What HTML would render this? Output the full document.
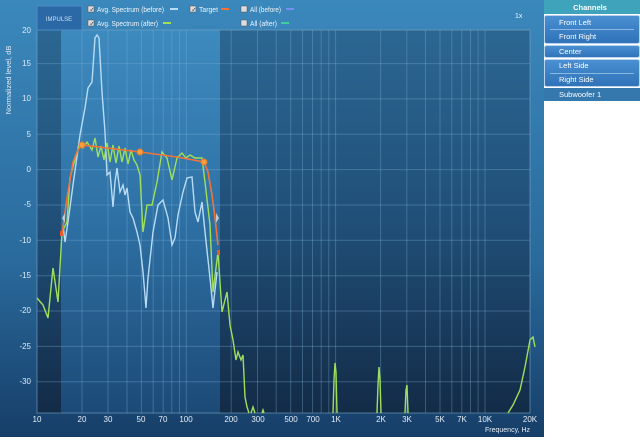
<!DOCTYPE html>
<html><head><meta charset="utf-8"><style>
body{margin:0;width:640px;height:440px;background:#fff;overflow:hidden;font-family:"Liberation Sans",sans-serif}
svg text{font-family:"Liberation Sans",sans-serif}
</style></head><body>
<svg width="640" height="440" viewBox="0 0 640 440" xmlns="http://www.w3.org/2000/svg">
<defs>
<linearGradient id="pan" x1="0" y1="0" x2="0" y2="1"><stop offset="0" stop-color="#3b88bc"/><stop offset="0.6" stop-color="#2a6a9c"/><stop offset="1" stop-color="#163e68"/></linearGradient>
<linearGradient id="lite" x1="0" y1="0" x2="0" y2="1"><stop offset="0" stop-color="#3d8abf"/><stop offset="0.5" stop-color="#2e70a4"/><stop offset="1" stop-color="#1c4a77"/></linearGradient>
<linearGradient id="dark" x1="0" y1="0" x2="0" y2="1"><stop offset="0" stop-color="#2b6792"/><stop offset="0.5" stop-color="#204f78"/><stop offset="1" stop-color="#132b47"/></linearGradient>
<linearGradient id="btn" x1="0" y1="0" x2="0" y2="1"><stop offset="0" stop-color="#4a90d2"/><stop offset="1" stop-color="#2f72b8"/></linearGradient>
</defs>
<rect x="0" y="0" width="544" height="437" fill="url(#pan)"/>
<rect x="37" y="30" width="493" height="383" fill="url(#lite)"/>
<rect x="37" y="30" width="24" height="383" fill="url(#dark)"/>
<rect x="220" y="30" width="310" height="383" fill="url(#dark)"/>
<g stroke="#7fb2d8" stroke-opacity="0.35" stroke-width="1">
<line x1="37" x2="530" y1="63.6" y2="63.6"/><line x1="37" x2="530" y1="98.9" y2="98.9"/><line x1="37" x2="530" y1="134.3" y2="134.3"/><line x1="37" x2="530" y1="169.6" y2="169.6"/><line x1="37" x2="530" y1="205" y2="205"/><line x1="37" x2="530" y1="240.3" y2="240.3"/><line x1="37" x2="530" y1="275.7" y2="275.7"/><line x1="37" x2="530" y1="311" y2="311"/><line x1="37" x2="530" y1="346.4" y2="346.4"/><line x1="37" x2="530" y1="381.7" y2="381.7"/>
<line y1="30" y2="413" x1="82" x2="82"/><line y1="30" y2="413" x1="108" x2="108"/><line y1="30" y2="413" x1="127" x2="127"/><line y1="30" y2="413" x1="141.4" x2="141.4"/><line y1="30" y2="413" x1="153.2" x2="153.2"/><line y1="30" y2="413" x1="163.2" x2="163.2"/><line y1="30" y2="413" x1="171.8" x2="171.8"/><line y1="30" y2="413" x1="179.5" x2="179.5"/><line y1="30" y2="413" x1="186.3" x2="186.3"/><line y1="30" y2="413" x1="231.2" x2="231.2"/><line y1="30" y2="413" x1="257.5" x2="257.5"/><line y1="30" y2="413" x1="276.2" x2="276.2"/><line y1="30" y2="413" x1="290.7" x2="290.7"/><line y1="30" y2="413" x1="302.5" x2="302.5"/><line y1="30" y2="413" x1="312.5" x2="312.5"/><line y1="30" y2="413" x1="321.2" x2="321.2"/><line y1="30" y2="413" x1="328.8" x2="328.8"/><line y1="30" y2="413" x1="335.6" x2="335.6"/><line y1="30" y2="413" x1="380.6" x2="380.6"/><line y1="30" y2="413" x1="406.8" x2="406.8"/><line y1="30" y2="413" x1="425.5" x2="425.5"/><line y1="30" y2="413" x1="440" x2="440"/><line y1="30" y2="413" x1="451.8" x2="451.8"/><line y1="30" y2="413" x1="461.8" x2="461.8"/><line y1="30" y2="413" x1="470.5" x2="470.5"/><line y1="30" y2="413" x1="478.1" x2="478.1"/><line y1="30" y2="413" x1="485" x2="485"/>
</g>
<rect x="37" y="30" width="493" height="383" fill="none" stroke="#7aa6c8" stroke-opacity="0.6"/>
<g fill="#dfeaf4" font-size="8" text-anchor="end">
<text x="31" y="33">20</text><text x="31" y="66">15</text><text x="31" y="101">10</text><text x="31" y="137">5</text><text x="31" y="172">0</text><text x="31" y="207">-5</text><text x="31" y="243">-10</text><text x="31" y="278">-15</text><text x="31" y="313">-20</text><text x="31" y="349">-25</text><text x="31" y="384">-30</text>
</g>
<text x="11" y="80" fill="#dfeaf4" font-size="7.5" transform="rotate(-90 11 80)" text-anchor="middle">Normalized level, dB</text>
<g fill="#e6eef6" font-size="8" text-anchor="middle">
<text x="37" y="422">10</text><text x="82" y="422">20</text><text x="108" y="422">30</text><text x="141" y="422">50</text><text x="163" y="422">70</text><text x="186" y="422">100</text><text x="231" y="422">200</text><text x="258" y="422">300</text><text x="291" y="422">500</text><text x="313" y="422">700</text><text x="336" y="422">1K</text><text x="381" y="422">2K</text><text x="407" y="422">3K</text><text x="440" y="422">5K</text><text x="462" y="422">7K</text><text x="485" y="422">10K</text><text x="530" y="422">20K</text>
</g>
<text x="530" y="432" fill="#e6eef6" font-size="7" text-anchor="end">Frequency, Hz</text>
<path fill="none" stroke="#b8dcf5" stroke-width="1.4" d="M63,225 L65,242 L68,222 L73,185 L80,135 L85,108 L88,88 L92,82 L95,38 L97,35 L99,38 L102,92 L105,132 L107,175 L110,172 L113,207 L115,182 L117,168 L120,192 L123,185 L125,195 L127,188 L130,212 L133,218 L137,232 L140,245 L143,272 L146,308 L148,278 L153,232 L158,205 L163,200 L168,218 L172,245 L175,238 L178,215 L183,192 L187,178 L192,177 L195,212 L198,222 L202,202 L205,232 L210,278 L213,308 L217,272"/>
<path fill="none" stroke="#9fe05a" stroke-width="1.4" d="M37,298 L43,305 L48,318 L53,268 L58,302 L62,232 L67,222 L70,178 L77,152 L80,145 L83,148 L87,142 L92,150 L95,138 L98,157 L101,146 L104,160 L107,143 L110,162 L113,145 L116,163 L119,146 L122,162 L125,148 L128,164 L131,150 L134,160 L137,165 L140,175 L143,232 L147,205 L152,205 L157,182 L162,152 L167,158 L172,180 L177,158 L182,153 L186,158 L190,155 L195,158 L202,158 L205,182 L210,225 L213,292 L218,252 L222,312 L227,292 L230,325 L233,340 L236,360 L238,352 L241,360 L243,355 L245,397 L247,407 L249,413 M251,413 L253,407 L255,413 M262,413 L263,410 L264,413 M333,413 L334,380 L335,363 L336,372 L337,413 M377,413 L378,385 L379,367 L380,380 L381,413 M405,413 L406,390 L407,385 L408,413 M508,413 L513,405 L520,390 L525,367 L530,340 L533,337 L535,347"/>
<path fill="none" stroke="#f0743a" stroke-width="1.6" d="M62,235 L67,198 L73,162 L78,150 L82,145 L140,152 L177,157 L204,162 L208,172 L212,195 L215,218 L218,245"/>
<g fill="#f5a03c" stroke="#e07a30"><circle cx="82" cy="145" r="3"/><circle cx="140" cy="152" r="3"/><circle cx="204" cy="162" r="3"/></g>
<rect x="60" y="231" width="3" height="5" fill="#e85a2a"/><rect x="217" y="250" width="3" height="5" fill="#e85a2a"/>
<path d="M62,218 l3,-5 v10z" fill="#c8c8c8"/><path d="M219,218 l-3,-5 v10z" fill="#c8c8c8"/>
<rect x="37" y="6" width="45" height="24" fill="#2a68a6" stroke="#4d8cc4"/>
<text x="59" y="21" fill="#cfe2f2" font-size="6" text-anchor="middle">IMPULSE</text>
<g font-size="7" fill="#f0f5fa">
<rect x="88" y="6" width="6" height="6" fill="#ddd" stroke="#555" stroke-width=".5"/><text x="89.5" y="11.5" font-size="6" fill="#222">✓</text><text x="97" y="12" textLength="67" lengthAdjust="spacingAndGlyphs">Avg. Spectrum (before)</text><line x1="170" y1="9" x2="178" y2="9" stroke="#b8dcf5" stroke-width="2"/>
<rect x="190" y="6" width="6" height="6" fill="#ddd" stroke="#555" stroke-width=".5"/><text x="191.5" y="11.5" font-size="6" fill="#222">✓</text><text x="199" y="12" textLength="19" lengthAdjust="spacingAndGlyphs">Target</text><line x1="221" y1="9" x2="229" y2="9" stroke="#f0743a" stroke-width="2"/>
<rect x="241" y="6" width="6" height="6" fill="#ddd" stroke="#555" stroke-width=".5"/><text x="250" y="12" textLength="31" lengthAdjust="spacingAndGlyphs">All (before)</text><line x1="286" y1="9" x2="294" y2="9" stroke="#7a8ef0" stroke-width="2"/>
<rect x="88" y="20" width="6" height="6" fill="#ddd" stroke="#555" stroke-width=".5"/><text x="89.5" y="25.5" font-size="6" fill="#222">✓</text><text x="97" y="26" textLength="61" lengthAdjust="spacingAndGlyphs">Avg. Spectrum (after)</text><line x1="163" y1="23" x2="171" y2="23" stroke="#9fe05a" stroke-width="2"/>
<rect x="241" y="20" width="6" height="6" fill="#ddd" stroke="#555" stroke-width=".5"/><text x="250" y="26" textLength="27" lengthAdjust="spacingAndGlyphs">All (after)</text><line x1="281" y1="23" x2="289" y2="23" stroke="#3fd09a" stroke-width="2"/>
<text x="515" y="18" font-size="7">1x</text>
</g>
<rect x="544" y="0" width="96" height="14" fill="#3ea3bb"/>
<text x="590" y="10" fill="#fff" font-size="7.5" text-anchor="middle" font-weight="bold">Channels</text>
<rect x="544.5" y="15.5" width="95" height="28" rx="2" fill="url(#btn)" stroke="#b8d4ee"/>
<line x1="550" x2="634" y1="29.5" y2="29.5" stroke="#8ab8e2"/>
<rect x="544.5" y="45.5" width="95" height="12" rx="2" fill="url(#btn)" stroke="#b8d4ee"/>
<rect x="544.5" y="59.5" width="95" height="27" rx="2" fill="url(#btn)" stroke="#b8d4ee"/>
<line x1="550" x2="634" y1="73.5" y2="73.5" stroke="#8ab8e2"/>
<rect x="544" y="88" width="96" height="13" fill="#3478ae"/>
<g fill="#fff" font-size="7.5"><text x="559" y="25">Front Left</text><text x="559" y="39">Front Right</text><text x="559" y="54">Center</text><text x="559" y="68">Left Side</text><text x="559" y="82">Right Side</text><text x="559" y="97">Subwoofer 1</text></g>
</svg>
</body></html>
